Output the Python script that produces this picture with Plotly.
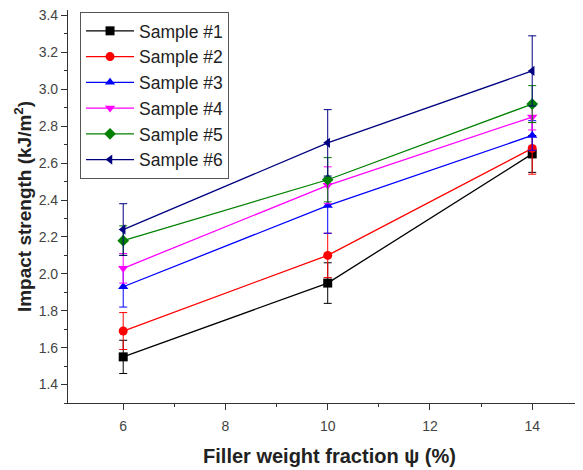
import plotly.graph_objects as go

x_vals = [6, 10, 14]
names = ["Sample #1", "Sample #2", "Sample #3", "Sample #4", "Sample #5", "Sample #6"]
values = [
    [1.55, 1.95, 2.65],
    [1.69, 2.10, 2.68],
    [1.93, 2.37, 2.75],
    [2.03, 2.48, 2.85],
    [2.18, 2.51, 2.92],
    [2.24, 2.71, 3.10],
]
errors = [
    [0.09, 0.11, 0.10],
    [0.10, 0.12, 0.14],
    [0.11, 0.15, 0.08],
    [0.08, 0.10, 0.07],
    [0.08, 0.12, 0.10],
    [0.14, 0.18, 0.19],
]
colors = ["#000000", "#ff0000", "#0000ff", "#ff00ff", "#008000", "#000080"]
symbols = ["square", "circle", "triangle-up", "triangle-down", "diamond", "triangle-left"]

fig = go.Figure()
for n, v, e, c, s in zip(names, values, errors, colors, symbols):
    fig.add_trace(go.Scatter(
        x=x_vals, y=v, name=n, mode="lines+markers",
        line=dict(color=c, width=1.3),
        marker=dict(symbol=s, size=9, color=c),
        error_y=dict(type="data", array=e, visible=True, color=c, thickness=1, width=4),
    ))

fig.update_layout(
    width=583, height=470,
    margin=dict(l=60, r=0, t=2, b=75, autoexpand=False),
    plot_bgcolor="white", paper_bgcolor="white",
    font=dict(family="Arial, Liberation Sans", color="#222"),
    showlegend=True,
    legend=dict(x=0.023, y=0.995, xanchor="left", yanchor="top",
                bordercolor="#555", borderwidth=1, bgcolor="white",
                font=dict(size=17.5, color="#222"), tracegroupgap=0,
                itemwidth=48),
)
fig.update_xaxes(
    range=[4.92, 15.15], tickvals=[6, 8, 10, 12, 14], automargin=False,
    showline=True, linecolor="#333", linewidth=1.2, mirror=False,
    ticks="outside", ticklen=6, tickcolor="#333", ticklabelstandoff=4,
    minor=dict(tickvals=[7, 9, 11, 13, 15], ticks="outside", ticklen=3, tickcolor="#333"),
    showgrid=False, zeroline=False, ticklabeloverflow="allow",
    tickfont=dict(size=14, color="#444"),
    title=dict(text="<b>Filler weight fraction ψ (%)</b>", font=dict(size=20, color="#222"), standoff=16),
)
fig.update_yaxes(
    range=[1.3, 3.43], tickvals=[1.4, 1.6, 1.8, 2.0, 2.2, 2.4, 2.6, 2.8, 3.0, 3.2, 3.4],
    ticktext=["1.4", "1.6", "1.8", "2.0", "2.2", "2.4", "2.6", "2.8", "3.0", "3.2", "3.4"],
    automargin=False, ticklabeloverflow="allow",
    showline=True, linecolor="#333", linewidth=1.2, mirror=False,
    ticks="outside", ticklen=6, tickcolor="#333",
    minor=dict(dtick=0.1, tick0=1.3, ticks="outside", ticklen=3, tickcolor="#333"),
    showgrid=False, zeroline=False,
    tickfont=dict(size=14, color="#444"),
    title=dict(text="<b>Impact strength (kJ/m<sup>2</sup>)</b>", font=dict(size=19, color="#222"), standoff=1),
)
fig.write_html("out.html")
